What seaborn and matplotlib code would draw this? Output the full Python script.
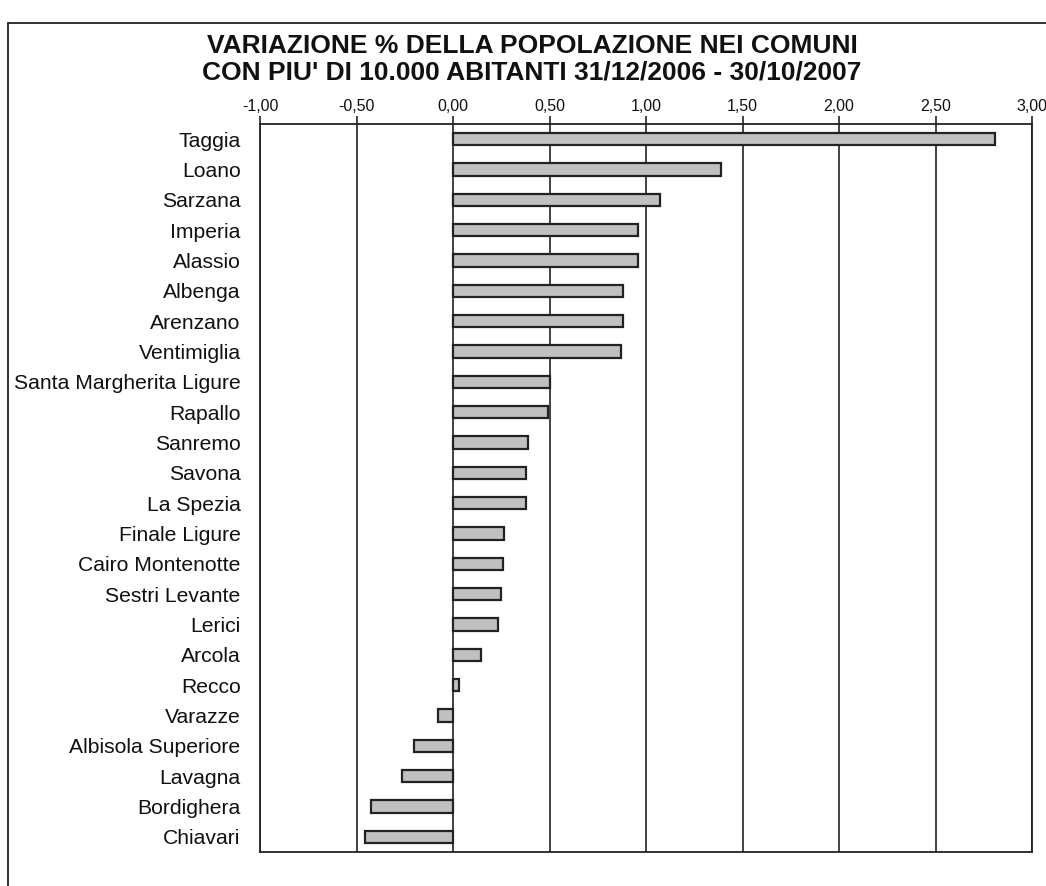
import numpy as np
import seaborn as sns
import matplotlib.pyplot as plt
from matplotlib.lines import Line2D
from matplotlib.ticker import FuncFormatter

comuni = ["Taggia", "Loano", "Sarzana", "Imperia", "Alassio", "Albenga", "Arenzano",
          "Ventimiglia", "Santa Margherita Ligure", "Rapallo", "Sanremo", "Savona",
          "La Spezia", "Finale Ligure", "Cairo Montenotte", "Sestri Levante", "Lerici",
          "Arcola", "Recco", "Varazze", "Albisola Superiore", "Lavagna", "Bordighera",
          "Chiavari"]
variazione = [2.81, 1.39, 1.07, 0.96, 0.96, 0.88, 0.88,
              0.87, 0.50, 0.49, 0.39, 0.38,
              0.377, 0.266, 0.257, 0.247, 0.235,
              0.147, 0.029, -0.076, -0.20, -0.264, -0.427,
              -0.454]
xticks = [-1.0, -0.5, 0.0, 0.5, 1.0, 1.5, 2.0, 2.5, 3.0]

sns.set_style("white")
plt.rcParams['font.family'] = ['Liberation Sans', 'DejaVu Sans']
plt.rcParams['text.color'] = '#111111'
plt.rcParams['xtick.color'] = '#111111'
plt.rcParams['ytick.color'] = '#111111'

fig = plt.figure(figsize=(10.46, 8.86), dpi=100)
ax = fig.add_axes([260/1046, 1-852/886, (1032-260)/1046, (852-124)/886])

sns.barplot(x=variazione, y=comuni, orient="h", color="#c0c0c0", edgecolor="#222222",
            linewidth=1.6, width=0.4, saturation=1, ax=ax)

ax.set_xlim(-1, 3)
ax.set_ylim(23.5, -0.5)
ax.set_xticks(xticks)
ax.xaxis.set_major_formatter(FuncFormatter(lambda v, p: f"{v:.2f}".replace(".", ",")))
ax.xaxis.tick_top()
ax.tick_params(axis="x", direction="out", length=6, width=1.2, color="#222222",
               labelsize=11.5, pad=1.5)
ax.tick_params(axis="y", length=0, labelsize=15.2, pad=14)
ax.set_xlabel("")
ax.set_ylabel("")

for v in xticks:
    ax.axvline(v, color="#222222", lw=1.2, zorder=0.5)
for s in ax.spines.values():
    s.set_visible(True)
    s.set_color("#222222")
    s.set_linewidth(1.3)

fig.text(532/1046, 1-46/886, "VARIAZIONE % DELLA POPOLAZIONE NEI COMUNI",
         ha="center", va="center", fontsize=19, fontweight="bold")
fig.text(532/1046, 1-73/886, "CON PIU' DI 10.000 ABITANTI 31/12/2006 - 30/10/2007",
         ha="center", va="center", fontsize=19, fontweight="bold")

# outer frame (top and left edges visible)
fig.add_artist(Line2D([8/1046, 1], [1-23/886, 1-23/886], color="#222222", lw=1.3))
fig.add_artist(Line2D([8/1046, 8/1046], [0, 1-23/886], color="#222222", lw=1.3))

fig.savefig("out.png", dpi=100)
